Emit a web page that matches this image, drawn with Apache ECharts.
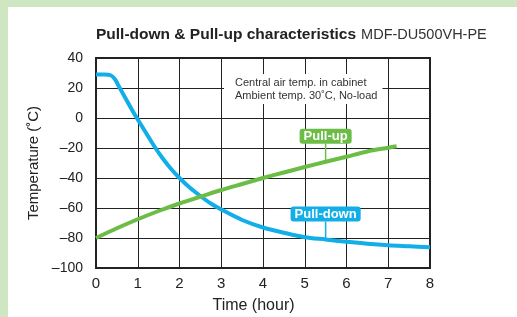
<!DOCTYPE html>
<html>
<head>
<meta charset="utf-8">
<script src="https://cdn.jsdelivr.net/npm/echarts@6/dist/echarts.min.js"></script>
<style>
  html, body { margin: 0; padding: 0; background: #cfe6c2; width: 517px; height: 317px; overflow: hidden; }
  #chart { position: absolute; left: 8px; top: 7px; width: 509px; height: 310px; background: #fff; }
</style>
</head>
<body>
<div id="chart"></div>
<script>
// pull-down curve (central air temp, cabinet cooling)
const timeDown = [0, 0.2, 0.35, 0.45, 0.55, 0.7, 0.85, 1.0, 1.2, 1.4, 1.6, 1.8, 2.0, 2.25, 2.5, 2.75, 3.0, 3.5, 4.0, 4.5, 5.0, 5.5, 6.0, 6.5, 7.0, 7.5, 8.0];
const tempDown = [29, 29, 28.5, 26, 21, 13.5, 6, -1, -10, -19, -27, -34, -40, -46.5, -52, -57, -61, -68, -73, -76.5, -79.5, -81, -82.5, -83.8, -84.8, -85.5, -86.2];
// pull-up curve
const timeUp = [0, 0.5, 1, 1.5, 2, 2.5, 3, 3.5, 4, 4.5, 5, 5.5, 6, 6.5, 7, 7.2];
const tempUp = [-80, -73.5, -67.5, -62, -57, -52.5, -48, -44, -40, -36.3, -32.7, -29.2, -25.8, -22.3, -19.8, -18.8];

const xTicks = [0, 1, 2, 3, 4, 5, 6, 7, 8];
const yTicks = [-100, -80, -60, -40, -20, 0, 20, 40];

const blue = '#12aee8';
const green = '#6cbd45';

// callout labels: [time, series name]
const callouts = [
  [5.5, 'Pull-up'],
  [5.5, 'Pull-down']
];

function pairs(xs, ys) {
  return xs.map((x, i) => [x, ys[i]]);
}

function valueAt(name, t) {
  const xs = name === 'Pull-up' ? timeUp : timeDown;
  const ys = name === 'Pull-up' ? tempUp : tempDown;
  return ys[xs.indexOf(t)];
}

const chart = echarts.init(document.getElementById('chart'));
const font = '"Liberation Sans", Arial, Helvetica, sans-serif';

const option = {
  animation: false,
  textStyle: { fontFamily: font },
  title: {
    left: 83,
    top: 14,
    text: '{b|Pull-down & Pull-up characteristics} {n|MDF-DU500VH-PE}',
    textStyle: {
      fontWeight: 'normal',
      rich: {
        b: { fontSize: 15.5, fontWeight: 'bold', color: '#222', fontFamily: font },
        n: { fontSize: 14.5, fontWeight: 'normal', color: '#333', fontFamily: font }
      }
    }
  },
  graphic: [{
    type: 'text',
    left: 216,
    top: 67,
    z: 50,
    style: {
      text: 'Central air temp. in cabinet\nAmbient temp. 30˚C, No-load',
      font: '11px ' + font,
      fill: '#333',
      lineHeight: 13,
      backgroundColor: '#fff',
      padding: [2, 5, 2, 11]
    }
  }],
  grid: {
    left: 88,
    right: 87,
    top: 51,
    bottom: 49,
    outerBoundsMode: 'none',
    containLabel: false,
    show: true,
    borderColor: '#222',
    borderWidth: 2,
    z: 3
  },
  xAxis: {
    type: 'value',
    min: xTicks[0],
    max: xTicks[xTicks.length - 1],
    interval: 1,
    name: 'Time (hour)',
    nameLocation: 'middle',
    nameGap: 30,
    nameTextStyle: { fontSize: 16, color: '#222', padding: [0, 19, 0, 0] },
    axisLine: { show: false },
    axisTick: { show: false },
    axisLabel: { fontSize: 15, color: '#222', margin: 8 },
    splitLine: { show: true, lineStyle: { color: '#222', width: 1 } }
  },
  yAxis: {
    type: 'value',
    min: yTicks[0],
    max: yTicks[yTicks.length - 1],
    interval: 20,
    name: 'Temperature (˚C)',
    nameLocation: 'middle',
    nameGap: 55,
    nameTextStyle: { fontSize: 15, color: '#222' },
    axisLine: { show: false },
    axisTick: { show: false },
    axisLabel: {
      fontSize: 14,
      color: '#222',
      margin: 13,
      formatter: v => String(v).replace('-', '–')
    },
    splitLine: { show: true, lineStyle: { color: '#222', width: 1 } }
  },
  series: [
    {
      name: 'Pull-down',
      type: 'line',
      data: pairs(timeDown, tempDown),
      smooth: 0.3,
      showSymbol: false,
      lineStyle: { color: blue, width: 4 },
      z: 5
    },
    {
      name: 'Pull-up',
      type: 'line',
      data: pairs(timeUp, tempUp),
      smooth: 0.3,
      showSymbol: false,
      lineStyle: { color: green, width: 4 },
      z: 5
    },
    {
      type: 'custom',
      z: 10,
      data: callouts.map(c => [c[0], valueAt(c[1], c[0]), c[1]]),
      renderItem: function (params, api) {
        const p = api.coord([api.value(0), api.value(1)]);
        const name = callouts[params.dataIndex][1];
        const col = name === 'Pull-up' ? green : blue;
        const top = p[1] - 18;
        return {
          type: 'group',
          children: [
            {
              type: 'line',
              shape: { x1: p[0], y1: p[1], x2: p[0], y2: top },
              style: { stroke: col, lineWidth: 1.5 }
            },
            {
              type: 'text',
              x: p[0],
              y: top,
              style: {
                text: name,
                font: 'bold 13px ' + font,
                fill: '#fff',
                align: 'center',
                verticalAlign: 'bottom',
                backgroundColor: col,
                padding: [1, 4, 1, 4],
                borderRadius: 3
              }
            }
          ]
        };
      }
    }
  ]
};

chart.setOption(option);
</script>
</body>
</html>
